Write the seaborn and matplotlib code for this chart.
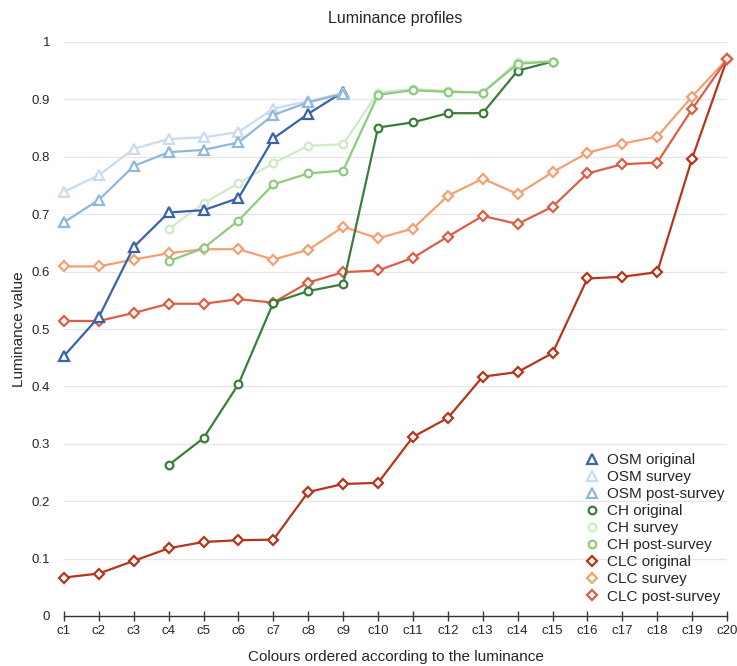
import matplotlib
matplotlib.use("Agg")
import matplotlib.pyplot as plt
from matplotlib.lines import Line2D
import numpy as np
import pandas as pd
import seaborn as sns

colours = [f"c{i}" for i in range(1, 21)]

osm_original = [0.453, 0.521, 0.643, 0.703, 0.707, 0.728, 0.832, 0.875, 0.913]
osm_survey = [0.739, 0.768, 0.814, 0.831, 0.834, 0.843, 0.884, 0.897, 0.911]
osm_post_survey = [0.686, 0.725, 0.784, 0.808, 0.812, 0.825, 0.873, 0.895, 0.910]

ch_original = [0.263, 0.310, 0.404, 0.546, 0.566, 0.578, 0.851, 0.860, 0.876, 0.876, 0.950, 0.966]
ch_survey = [0.674, 0.719, 0.754, 0.789, 0.819, 0.822, 0.912, 0.918, 0.915, 0.912, 0.966, 0.966]
ch_post_survey = [0.618, 0.641, 0.689, 0.752, 0.771, 0.776, 0.908, 0.916, 0.913, 0.912, 0.962, 0.966]

clc_original = [0.067, 0.074, 0.096, 0.118, 0.129, 0.132, 0.133, 0.216, 0.230, 0.232,
                0.312, 0.345, 0.417, 0.425, 0.458, 0.588, 0.591, 0.599, 0.797, 0.970]
clc_survey = [0.609, 0.609, 0.621, 0.632, 0.639, 0.639, 0.621, 0.638, 0.678, 0.658,
              0.675, 0.732, 0.762, 0.735, 0.773, 0.807, 0.823, 0.835, 0.905, 0.970]
clc_post_survey = [0.514, 0.514, 0.528, 0.544, 0.544, 0.552, 0.546, 0.581, 0.599, 0.602,
                   0.624, 0.661, 0.697, 0.683, 0.713, 0.771, 0.787, 0.790, 0.883, 0.970]

# (label, values, first colour index, colour, marker)
series = [
    ("OSM original", osm_original, 0, "#3a62ab", "^"),
    ("OSM survey", osm_survey, 0, "#c9dcef", "^"),
    ("OSM post-survey", osm_post_survey, 0, "#8fb8dc", "^"),
    ("CH original", ch_original, 3, "#3b7d3a", "o"),
    ("CH survey", ch_survey, 3, "#cfeac6", "o"),
    ("CH post-survey", ch_post_survey, 3, "#8ecb7f", "o"),
    ("CLC original", clc_original, 0, "#b5361a", "D"),
    ("CLC survey", clc_survey, 0, "#f3a074", "D"),
    ("CLC post-survey", clc_post_survey, 0, "#dc5f45", "D"),
]

MARKER_SIZE = {"^": 6.5, "D": 5.0, "o": 5.5}

sns.set_theme(style="white")
plt.rcParams["font.family"] = ["Liberation Sans", "DejaVu Sans"]

fig = plt.figure(figsize=(7.37, 6.66), dpi=100)
ax = fig.add_axes([64 / 737, 50 / 666, 663 / 737, 574 / 666])

# draw CLC first, then CH, then OSM on top
order = [6, 7, 8, 3, 4, 5, 0, 1, 2]
for idx in order:
    label, vals, start, col, mk = series[idx]
    df = pd.DataFrame({"x": np.arange(start, start + len(vals)), "y": vals})
    sns.lineplot(data=df, x="x", y="y", ax=ax, color=col, linewidth=1.6,
                 marker=mk, markersize=MARKER_SIZE[mk], markerfacecolor="white",
                 markeredgecolor=col, markeredgewidth=1.6, zorder=3, clip_on=False)

ax.set_xlim(0, 19)
ax.set_ylim(0, 1)
ax.set_xticks(np.arange(20))
ax.set_xticklabels(colours)
ax.set_yticks(np.arange(0, 1.01, 0.1))
ax.set_yticklabels(["0", "0.1", "0.2", "0.3", "0.4", "0.5", "0.6", "0.7", "0.8", "0.9", "1"])
ax.yaxis.grid(True, color="#e6e6e6", linewidth=1)
ax.xaxis.grid(False)
for s in ["top", "right", "left"]:
    ax.spines[s].set_visible(False)
ax.spines["bottom"].set_color("#333333")
ax.spines["bottom"].set_linewidth(1.0)
ax.tick_params(axis="x", direction="inout", length=7, width=1.0, color="#333333",
               labelsize=9.5, pad=3, bottom=True)
ax.tick_params(axis="y", length=0, labelsize=9.5, pad=10)
ax.set_xlabel("Colours ordered according to the luminance", fontsize=11, labelpad=9)
ax.set_ylabel("Luminance value", fontsize=11, labelpad=4)
ax.set_title("Luminance profiles", fontsize=11.5, pad=14)

handles = []
for label, vals, start, col, mk in series:
    handles.append(Line2D([], [], linestyle="none", marker=mk, markersize=MARKER_SIZE[mk],
                          markerfacecolor="white", markeredgecolor=col,
                          markeredgewidth=1.6, label=label))
ax.legend(handles=handles, loc="upper left", bbox_to_anchor=(578 / 737, 1 - 447 / 666),
          bbox_transform=fig.transFigure, frameon=False, fontsize=11,
          handlelength=1.0, handletextpad=0.5, labelspacing=0.2, borderaxespad=0)

fig.savefig("out.png", dpi=100)
